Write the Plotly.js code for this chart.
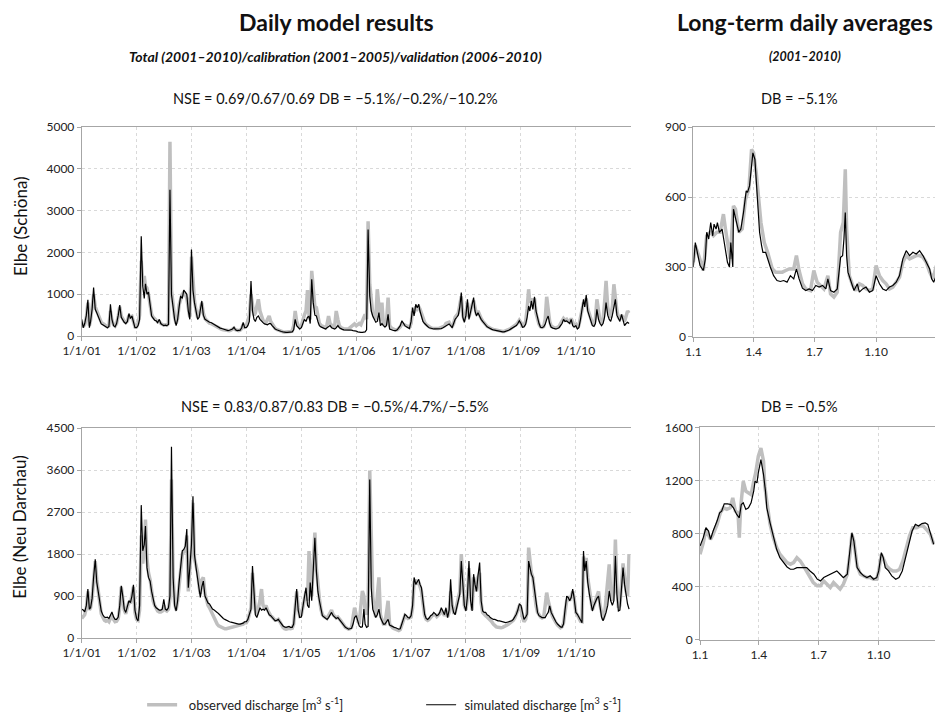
<!DOCTYPE html>
<html><head><meta charset="utf-8">
<script src="https://cdn.plot.ly/plotly-3.0.1.min.js"></script>
<style>html,body{margin:0;padding:0;background:#fff}#chart{width:935px;height:720px}</style>
</head><body><div id="chart"></div>
<script>
// ---------- DATA ----------
const years = [2001,2002,2003,2004,2005,2006,2007,2008,2009,2010];
const sampleDays = [1, 11, 21]; // three readings per month
const yearTickLabels = ['1/1/01','1/1/02','1/1/03','1/1/04','1/1/05','1/1/06','1/1/07','1/1/08','1/1/09','1/1/10'];

// Elbe (Schöna) daily discharge, m3/s, one row per year (36 readings)
const schonaSim = [
 400,200,300,500,870,200,350,640,1160,640,560,480,380,290,270,250,230,200,230,760,400,250,220,300,500,740,450,380,330,300,350,540,420,480,300,200,
 200,250,400,2390,1200,900,1250,1000,1050,700,480,430,380,365,320,400,300,270,250,260,250,280,3500,1000,640,400,250,400,700,960,900,1100,1050,1000,600,400,
 2070,1100,800,550,400,450,600,840,500,400,380,350,330,325,300,280,250,220,210,190,180,170,160,150,130,140,150,170,210,150,130,130,140,200,325,200,
 200,250,350,1320,600,400,350,450,480,400,350,320,290,280,270,300,300,250,200,170,150,130,120,110,100,90,90,90,90,100,100,150,400,250,200,170,
 200,300,400,350,450,470,300,1360,800,500,480,350,250,220,200,180,170,200,220,250,200,180,170,200,250,200,170,160,150,150,140,140,150,140,130,130,
 120,100,90,90,90,90,100,150,2550,960,600,480,400,330,350,560,250,300,250,220,250,520,170,150,140,130,130,150,200,250,365,300,250,220,200,180,
 350,680,480,760,680,760,600,480,350,300,250,230,200,190,170,170,170,170,170,170,180,200,220,260,270,290,250,200,300,400,450,500,700,1040,450,330,
 500,880,400,600,700,920,600,480,560,450,400,350,300,250,220,200,170,160,150,140,130,130,120,110,100,100,110,120,140,160,180,200,230,250,300,365,
 300,210,220,280,450,720,600,840,640,940,600,400,300,210,200,220,280,400,480,300,210,190,180,170,180,200,250,300,400,350,365,320,300,400,250,220,
 250,170,200,400,600,880,700,980,600,480,350,250,230,300,640,400,300,250,300,450,800,500,400,350,500,700,880,500,400,350,520,400,250,300,330,300
];
const schonaObs = [
 300,220,280,450,800,250,380,680,1000,700,600,520,420,330,300,270,240,220,240,600,380,270,240,300,480,700,480,400,350,320,360,500,450,470,320,220,
 220,300,500,1800,1300,1440,1200,1150,1000,750,520,450,400,380,340,350,300,280,260,270,260,300,4650,1100,700,450,300,420,750,900,1000,1050,1000,900,650,450,
 1900,1200,850,600,450,500,650,800,550,420,380,340,310,300,280,260,230,200,190,170,160,150,140,130,120,130,140,160,190,150,130,130,140,180,280,220,
 250,350,500,1000,700,500,550,700,880,600,450,380,330,320,400,480,350,280,220,180,160,140,120,110,100,90,90,90,100,110,120,250,600,350,250,200,
 250,400,500,600,1100,500,400,1560,1000,700,680,450,300,260,240,220,200,280,480,300,250,220,250,600,400,250,200,180,170,170,160,170,200,230,280,290,
 250,280,300,270,350,450,520,400,2750,1240,800,550,450,400,1120,600,350,800,300,250,300,920,250,200,170,150,140,150,180,220,300,280,250,230,220,210,
 300,600,550,700,650,700,650,550,400,330,280,250,220,200,190,180,180,180,180,190,200,220,240,300,320,330,270,230,300,450,500,550,750,950,500,380,
 550,800,450,650,750,850,650,520,600,480,420,360,310,260,230,210,180,170,160,150,140,140,130,120,110,110,120,130,150,170,200,220,250,280,320,380,
 320,250,260,350,650,1120,800,900,700,900,550,380,280,220,210,230,400,940,600,350,240,210,200,190,200,230,300,380,420,380,400,350,330,420,300,250,
 280,200,250,450,650,800,750,900,650,500,400,300,280,400,880,500,350,300,400,800,1320,700,500,450,700,1240,900,600,450,400,500,450,350,500,600,550
];
// Elbe (Neu Darchau) daily discharge, m3/s
const darchauSim = [
 620,600,560,700,1050,620,650,850,1300,1690,1200,1000,750,580,500,450,440,450,420,480,560,450,400,400,450,700,1120,900,620,550,700,800,760,900,1140,600,
 420,370,700,2850,1870,2000,2400,1510,1300,1220,1000,800,700,650,620,600,600,620,830,620,600,650,900,4100,1300,700,580,800,1200,1600,1870,1900,1970,2340,1080,1500,
 2000,3040,1790,1500,1300,1000,870,1100,1220,900,800,750,730,680,620,600,580,550,520,480,450,420,400,380,370,350,340,330,320,310,300,300,300,310,320,350,
 350,400,510,620,1545,870,500,440,550,650,600,620,600,650,580,500,480,450,420,370,380,400,350,300,260,240,230,240,250,230,230,300,600,1050,600,440,
 450,620,870,1080,700,650,1190,800,1500,2150,1440,1000,800,600,480,450,420,400,440,500,550,480,440,420,440,400,350,300,260,230,210,190,200,210,300,440,
 480,350,260,230,240,620,300,230,250,3400,1080,620,500,440,500,620,440,350,300,300,350,400,280,260,240,230,220,200,190,200,300,400,510,480,440,430,
 480,700,1300,1150,1200,1260,1150,1080,800,510,420,400,430,480,500,550,520,480,500,550,650,550,500,650,440,600,1260,700,550,500,650,800,940,1650,1100,700,
 580,900,1650,800,580,1370,1150,1000,1330,1620,800,580,550,550,500,480,440,420,400,400,380,370,370,360,350,330,330,340,350,360,370,400,450,510,600,730,
 700,500,400,450,510,1650,1500,1370,1300,1000,730,550,480,450,440,440,440,500,550,690,550,480,400,350,300,260,240,230,300,600,900,870,800,870,1050,850,
 550,510,440,380,330,1865,1440,1650,1200,940,750,580,700,800,850,900,600,450,370,450,550,700,1010,800,700,800,1760,940,580,600,1000,1510,1150,900,730,620
];
const darchauObs = [
 420,450,500,650,1000,600,650,850,1250,1650,1250,1000,720,520,450,380,360,380,350,420,500,400,350,360,420,650,1100,850,600,520,680,780,740,880,1100,550,
 400,380,600,2200,1600,1900,2540,1700,1400,1250,1000,800,700,620,580,560,560,580,700,600,580,620,850,3400,1350,750,600,800,1150,1550,1800,1850,1900,2200,1000,1500,
 1900,2900,1700,1550,1400,1100,950,1250,1300,950,800,700,650,580,500,420,360,300,260,240,220,200,200,200,210,220,230,240,250,260,270,280,280,290,300,330,
 330,380,480,650,1400,950,600,500,650,800,1050,700,650,700,600,520,480,450,420,380,380,400,350,280,230,200,190,200,210,200,210,300,650,1000,650,480,
 500,650,850,1000,800,1865,1300,900,1600,2260,1500,1050,850,620,500,460,430,420,480,560,600,500,450,430,450,420,370,320,270,230,210,190,200,230,450,650,
 500,400,300,700,1010,900,600,500,700,3590,1870,900,600,450,900,1300,500,400,300,300,500,800,300,250,220,200,180,170,160,180,280,400,480,450,420,430,
 450,650,1200,1250,1150,1200,1100,1000,750,480,400,380,400,450,480,500,500,460,480,520,600,520,480,600,450,550,1000,700,550,550,700,850,1000,1800,1200,700,
 600,850,1500,900,600,1300,1200,1000,1300,1400,750,550,500,480,450,420,380,350,300,260,240,230,220,220,230,240,260,280,300,320,340,380,430,500,600,700,
 650,450,350,400,550,1940,1600,1400,1300,950,700,550,480,450,430,450,700,975,800,650,550,450,380,330,280,250,220,240,320,550,800,850,800,900,1000,850,
 550,500,420,360,350,1750,1500,1720,1300,1000,800,600,700,800,900,1000,700,500,400,500,800,1200,1580,1000,800,1000,2110,1100,650,700,1100,1600,1300,1000,900,1800
];

// Long-term daily averages (2001–2010), x = day of year
const dayTickVals = [1, 91, 182, 274];
const dayTickLabels = ['1.1', '1.4', '1.7', '1.10'];

const schonaAvgSimDays = [1,4,6,9,11,16,19,21,24,27,30,32,35,37,40,44,46,49,52,55,57,60,61,65,69,72,76,80,82,85,88,90,93,95,98,100,103,105,109,111,114,116,121,126,131,136,141,146,151,155,159,164,169,174,179,184,189,194,199,202,206,211,216,221,224,226,228,230,232,236,241,246,249,254,259,264,269,274,279,284,289,294,299,304,309,314,319,324,329,334,339,344,349,354,357,360,364];
const schonaAvgSim = [300,405,377,335,306,285,335,449,420,491,434,484,463,491,449,463,427,363,320,300,405,300,548,498,449,463,534,627,620,648,740,790,762,676,548,449,392,363,363,342,320,300,263,242,238,242,235,263,249,292,249,209,199,206,199,221,214,221,206,249,199,192,206,342,349,420,534,349,278,242,199,228,192,206,214,192,199,263,228,206,199,214,221,235,263,335,370,349,363,356,370,349,320,292,249,235,263];
const schonaAvgObsDays = [1,4,9,16,21,26,31,36,41,46,49,52,56,61,64,69,74,79,84,88,91,95,99,102,107,112,119,124,129,134,139,144,151,155,159,164,169,176,181,186,191,196,202,206,211,216,221,225,228,230,234,239,244,249,254,259,264,269,274,279,284,289,294,299,304,309,314,319,324,329,334,339,344,349,354,359,364];
const schonaAvgObs = [320,392,350,285,434,449,434,449,449,527,463,405,335,562,548,449,463,591,634,805,790,705,577,491,405,363,292,278,278,278,285,292,292,349,285,228,206,199,285,235,221,206,263,185,171,192,449,491,719,463,263,221,199,228,221,206,199,206,306,263,242,228,206,214,235,256,320,349,335,342,349,349,342,320,278,249,306];

const darchauAvgSimDays = [1,6,10,14,17,21,27,31,34,38,43,48,52,57,61,64,67,71,75,79,83,85,88,90,94,98,101,103,108,113,118,123,129,134,139,144,149,154,159,164,169,175,180,185,190,195,200,205,210,215,220,226,230,233,236,238,241,246,251,256,261,266,271,274,278,281,284,289,294,300,305,310,315,320,325,330,335,340,345,349,353,358];
const darchauAvgSim = [706,769,844,819,756,819,894,957,969,1024,1024,1019,994,944,919,1019,1032,982,994,1032,1119,1194,1182,1257,1357,1245,1119,994,881,769,681,618,581,548,531,531,543,543,548,543,518,493,456,443,468,481,493,506,518,493,468,493,669,806,744,644,543,506,481,468,481,456,468,518,656,618,543,518,481,456,468,518,618,719,819,869,857,875,881,869,806,719];
const darchauAvgObsDays = [1,6,10,14,17,21,27,32,37,42,47,51,55,59,61,63,67,71,75,79,83,86,90,94,98,100,103,108,113,118,123,129,134,139,144,149,154,159,164,169,174,180,185,190,195,200,205,210,215,220,226,230,233,236,238,241,246,251,256,261,266,271,274,278,281,286,291,296,301,306,311,316,321,326,332,337,342,347,353,358];
const darchauAvgObs = [644,731,831,794,756,794,869,957,994,982,994,1069,969,957,769,994,1194,1119,1107,1094,1194,1257,1382,1445,1345,1157,1044,869,769,694,644,606,581,569,581,618,594,556,518,481,431,406,406,443,418,393,431,406,381,418,493,644,794,744,644,556,493,481,468,468,456,456,518,644,606,556,531,518,518,531,594,694,781,844,844,857,857,831,794,719];

// ---------- BUILD ----------
function pad(n){ return String(n).padStart(2,'0'); }
const dailyDates = [];
for (const y of years) for (let m = 1; m <= 12; m++) for (const d of sampleDays) dailyDates.push(`${y}-${pad(m)}-${pad(d)}`);
const yearTickVals = years.map(y => `${y}-01-01`);

const F = 'Lato, "Open Sans", sans-serif';
const OBS = {color:'#bfbfbf', width:3.5};
const SIM = {color:'#000000', width:1.2};
const obsName = '\u00a0\u00a0observed discharge [m<sup>3</sup> s<sup>-1</sup>]';
const simName = '\u00a0simulated discharge [m<sup>3</sup> s<sup>-1</sup>]';

const traces = [
 {x:dailyDates, y:schonaObs, xaxis:'x', yaxis:'y', type:'scatter', mode:'lines', line:OBS, name:obsName, legendrank:1},
 {x:dailyDates, y:schonaSim, xaxis:'x', yaxis:'y', type:'scatter', mode:'lines', line:SIM, name:simName, legendrank:2},
 {x:dailyDates, y:darchauObs, xaxis:'x2', yaxis:'y2', type:'scatter', mode:'lines', line:OBS, showlegend:false},
 {x:dailyDates, y:darchauSim, xaxis:'x2', yaxis:'y2', type:'scatter', mode:'lines', line:SIM, showlegend:false},
 {x:schonaAvgObsDays, y:schonaAvgObs, xaxis:'x3', yaxis:'y3', type:'scatter', mode:'lines', line:OBS, showlegend:false},
 {x:schonaAvgSimDays, y:schonaAvgSim, xaxis:'x3', yaxis:'y3', type:'scatter', mode:'lines', line:SIM, showlegend:false},
 {x:darchauAvgObsDays, y:darchauAvgObs, xaxis:'x4', yaxis:'y4', type:'scatter', mode:'lines', line:OBS, showlegend:false},
 {x:darchauAvgSimDays, y:darchauAvgSim, xaxis:'x4', yaxis:'y4', type:'scatter', mode:'lines', line:SIM, showlegend:false}
];

const base = {showline:true, linecolor:'#a6a6a6', linewidth:1, ticks:'outside', ticklen:4, tickcolor:'#a6a6a6',
  showgrid:true, gridcolor:'#d9d9d9', griddash:'dot', gridwidth:1, zeroline:false, fixedrange:true,
  tickfont:{family:F, size:12, color:'#222'}};

const dateX = Object.assign({}, base, {type:'date', range:['2001-01-01','2010-12-31'], tickvals:yearTickVals, ticktext:yearTickLabels, mirror:true, domain:[0.0874,0.6744]});
const dayX = Object.assign({}, base, {type:'linear', tickvals:dayTickVals, ticktext:dayTickLabels, mirror:true});

const layout = {
  width:935, height:720, margin:{l:0,r:0,t:0,b:0}, paper_bgcolor:'#fff', plot_bgcolor:'#fff',
  font:{family:F, color:'#222'},
  xaxis: Object.assign({}, dateX, {anchor:'y'}),
  yaxis: Object.assign({}, base, {range:[0,5000], dtick:1000, tick0:0, domain:[0.5313,0.8226], anchor:'x'}),
  xaxis2: Object.assign({}, dateX, {anchor:'y2'}),
  yaxis2: Object.assign({}, base, {range:[0,4500], dtick:900, tick0:0, domain:[0.1101,0.4028], anchor:'x2'}),
  xaxis3: Object.assign({}, dayX, {range:[1,362], domain:[0.7415,1], anchor:'y3'}),
  yaxis3: Object.assign({}, base, {range:[0,900], dtick:300, tick0:0, domain:[0.5301,0.8226], anchor:'x3'}),
  xaxis4: Object.assign({}, dayX, {range:[1,360], domain:[0.7487,1], anchor:'y4'}),
  yaxis4: Object.assign({}, base, {range:[0,1600], dtick:400, tick0:0, domain:[0.1079,0.4038], anchor:'x4'}),
  showlegend:true,
  legend:{orientation:'h', x:0.152, xanchor:'left', y:0.017, yanchor:'middle', font:{family:F, size:13, color:'#222'},
          entrywidth:234, entrywidthmode:'pixels', bgcolor:'rgba(0,0,0,0)', traceorder:'normal'},
  annotations:[
    {text:'<b>Daily model results</b>', x:0.3594, y:0.9694, font:{size:23}},
    {text:'<b>Long-term daily averages</b>', x:0.861, y:0.9694, font:{size:23}},
    {text:'<b><i>Total (2001–2010)/calibration (2001–2005)/validation (2006–2010)</i></b>', x:0.3583, y:0.9208, font:{size:14}},
    {text:'<b><i>(2001–2010)</i></b>', x:0.8610, y:0.9208, font:{size:12.5}},
    {text:'NSE = 0.69/0.67/0.69 DB = −5.1%/−0.2%/−10.2%', x:0.3583, y:0.8625, font:{size:14.5}},
    {text:'DB = −5.1%', x:0.8556, y:0.8625, font:{size:14.5}},
    {text:'NSE = 0.83/0.87/0.83 DB = −0.5%/4.7%/−5.5%', x:0.3583, y:0.4333, font:{size:14.5}},
    {text:'DB = −0.5%', x:0.8556, y:0.4333, font:{size:14.5}},
    {text:'Elbe (Schöna)', x:0.0214, y:0.6847, textangle:-90, font:{size:17}},
    {text:'Elbe (Neu Darchau)', x:0.0214, y:0.2653, textangle:-90, font:{size:17}}
  ].map(a => Object.assign({xref:'paper', yref:'paper', showarrow:false, xanchor:'center', yanchor:'middle'}, a,
        {font:Object.assign({family:F, color:'#111'}, a.font)}))
};

Plotly.newPlot('chart', traces, layout, {displayModeBar:false, staticPlot:true});
</script>
</body></html>
